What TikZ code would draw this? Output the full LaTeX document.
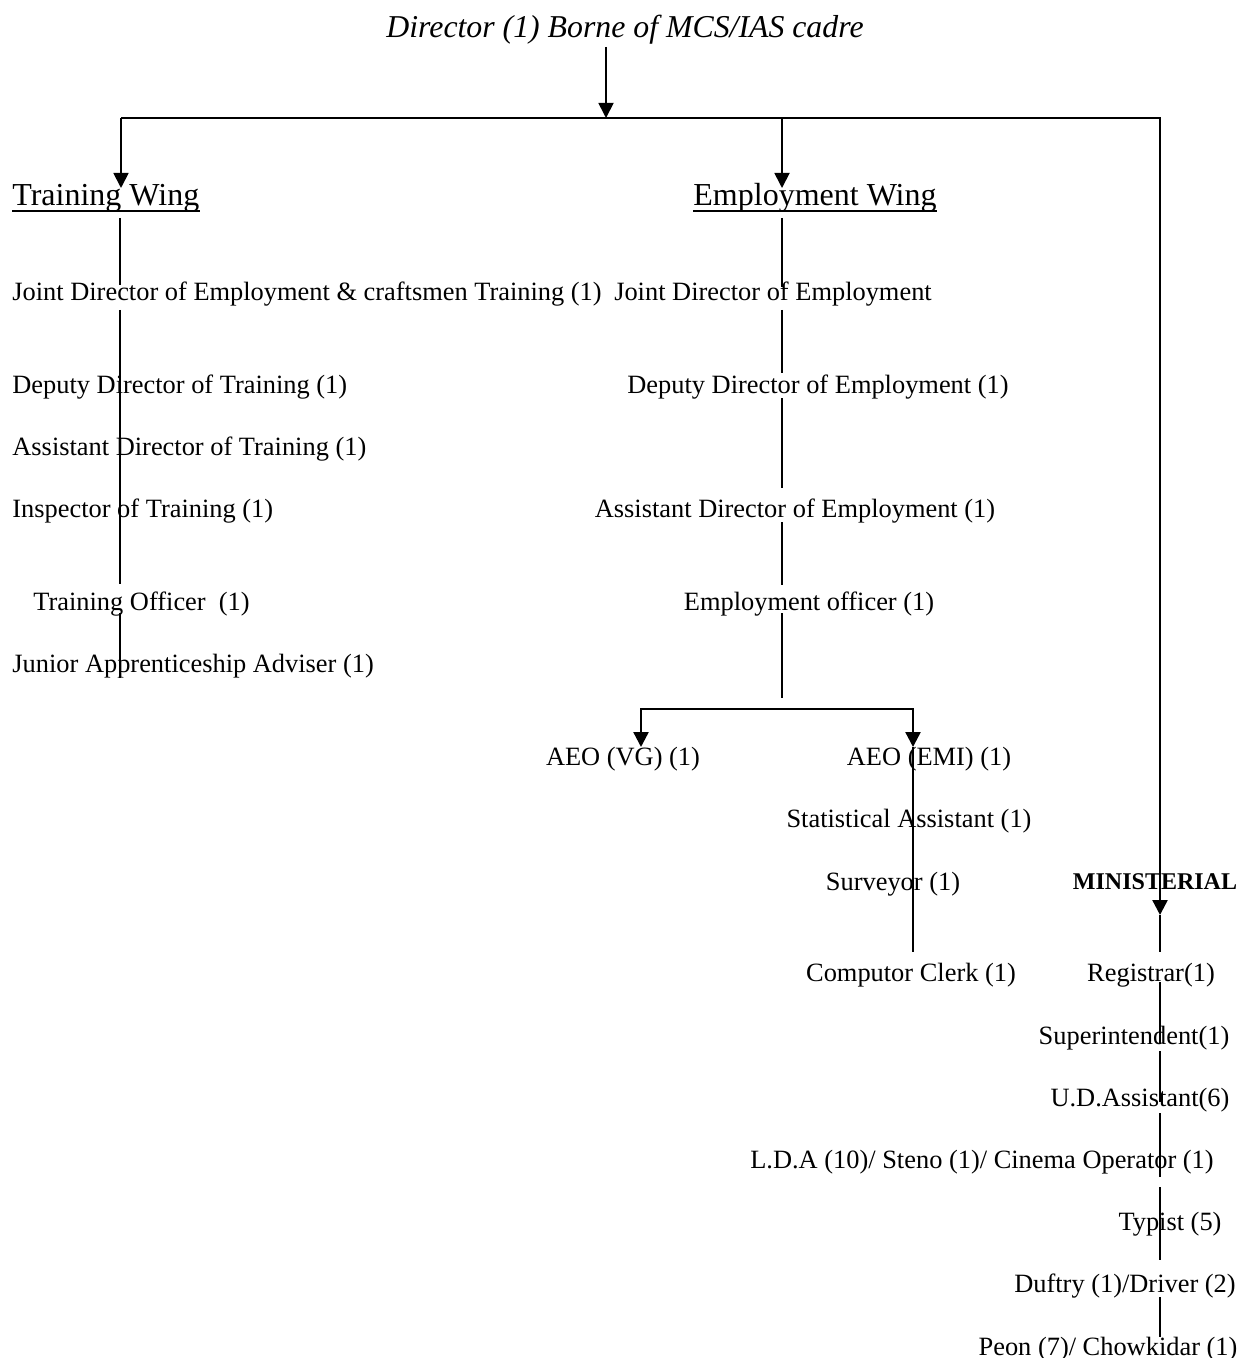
\documentclass[tikz,border=0pt]{standalone}
\usepackage{fontspec}
\setmainfont{Liberation Serif}
\usetikzlibrary{arrows.meta,calc}
\begin{document}
\begin{tikzpicture}[x=0.5pt,y=-0.5pt,
  lbl/.style={inner sep=0pt,font=\fontsize{13.2}{15}\selectfont},
  head/.style={inner sep=0pt,font=\fontsize{16}{18}\selectfont},
  conn/.style={line width=0.9pt},
  trunk/.style={line width=1.2pt},
  arr/.style={-{Triangle[width=7.5pt,length=7.5pt]}}]
\useasboundingbox (0,0) rectangle (1239,1358);
\fill[white] (0,0) rectangle (1239,1358);

% title
\node[inner sep=0pt,anchor=base,font=\fontsize{15.9}{18}\selectfont\itshape] (dir) at (625,38) {Director (1) Borne of MCS/IAS cadre};

% wings
\node[head,anchor=base west] (tw) at (12,206) {Training Wing};
\node[head,anchor=base west] (ew) at (693,206) {Employment Wing};
\draw[line width=0.9pt] ($(tw.base west)+(0,5)$) -- ($(tw.base east)+(0,5)$);
\draw[line width=0.9pt] ($(ew.base west)+(0,5)$) -- ($(ew.base east)+(0,5)$);

% training column
\node[lbl,anchor=base west] (t1) at (12,301) {Joint Director of Employment \& craftsmen Training (1)};
\node[lbl,anchor=base west] (t2) at (12,393) {Deputy Director of Training (1)};
\node[lbl,anchor=base west] (t3) at (12,455) {Assistant Director of Training (1)};
\node[lbl,anchor=base west] (t4) at (12,517) {Inspector of Training (1)};
\node[lbl,anchor=base west] (t5) at (33,610) {Training Officer\ \ (1)};
\node[lbl,anchor=base west] (t6) at (12,672) {Junior Apprenticeship Adviser (1)};

% employment column
\node[lbl,anchor=base] (e1) at (773,301) {Joint Director of Employment};
\node[lbl,anchor=base] (e2) at (818,393) {Deputy Director of Employment (1)};
\node[lbl,anchor=base] (e3) at (795,517) {Assistant Director of Employment (1)};
\node[lbl,anchor=base] (e4) at (809,610) {Employment officer (1)};
\node[lbl,anchor=base] (a1) at (623,765) {AEO (VG) (1)};
\node[lbl,anchor=base] (a2) at (929,765) {AEO (EMI) (1)};
\node[lbl,anchor=base] (a3) at (909,827) {Statistical Assistant (1)};
\node[lbl,anchor=base] (a4) at (893,890) {Surveyor (1)};
\node[lbl,anchor=base] (a5) at (911,981) {Computor Clerk (1)};

% ministerial column
\node[inner sep=0pt,anchor=base,font=\fontsize{12}{14}\selectfont\bfseries] (min) at (1155,889) {MINISTERIAL};
\node[lbl,anchor=base] (m1) at (1151,981) {Registrar(1)};
\node[lbl,anchor=base] (m2) at (1134,1044) {Superintendent(1)};
\node[lbl,anchor=base] (m3) at (1140,1106) {U.D.Assistant(6)};
\node[lbl,anchor=base] (m4) at (982,1168) {L.D.A (10)/ Steno (1)/ Cinema Operator (1)};
\node[lbl,anchor=base] (m5) at (1170,1230) {Typist (5)};
\node[lbl,anchor=base] (m6) at (1125,1292) {Duftry (1)/Driver (2)};
\node[lbl,anchor=base] (m7) at (1108,1355) {Peon (7)/ Chowkidar (1)};

% top connectors
\coordinate (d0) at (606,47);
\coordinate (d1) at (606,118);
\coordinate (bl) at (121,118);
\coordinate (bm) at (782,118);
\coordinate (br) at (1160,118);
\coordinate (ttip) at (121,188);
\coordinate (etip) at (782,188);
\coordinate (mtip) at (1160,915);
\draw[conn,arr] (d0) -- (d1);
\draw[trunk,arr] (bl) -- (br) -- (mtip);
\draw[conn,arr] (bl) -- (ttip);
\draw[conn,arr] (bm) -- (etip);

% training spine segments
\foreach \a/\b [count=\i] in {218/285, 310/584, 613/678}{
  \coordinate (ts\i a) at (120,\a);
  \coordinate (ts\i b) at (120,\b);
  \draw[conn] (ts\i a) -- (ts\i b);
}
% employment spine segments
\foreach \a/\b [count=\i] in {218/287, 310/373, 398/488, 522/585, 613/698}{
  \coordinate (es\i a) at (782,\a);
  \coordinate (es\i b) at (782,\b);
  \draw[conn] (es\i a) -- (es\i b);
}
% AEO branch
\coordinate (bl2) at (641,709);
\coordinate (br2) at (913,709);
\coordinate (vgtip) at (641,747);
\coordinate (emtip) at (913,747);
\coordinate (emend) at (913,952);
\draw[trunk,arr] (br2) -- (bl2) -- (vgtip);
\draw[trunk,arr] (bl2) -- (br2) -- (emtip);
\draw[conn] (emtip) -- (emend);

% ministerial spine segments
\foreach \a/\b [count=\i] in {915/952, 982/1044, 1051/1102, 1113/1177, 1187/1260, 1297/1337}{
  \coordinate (ms\i a) at (1160,\a);
  \coordinate (ms\i b) at (1160,\b);
  \draw[conn] (ms\i a) -- (ms\i b);
}
\end{tikzpicture}
\end{document}
